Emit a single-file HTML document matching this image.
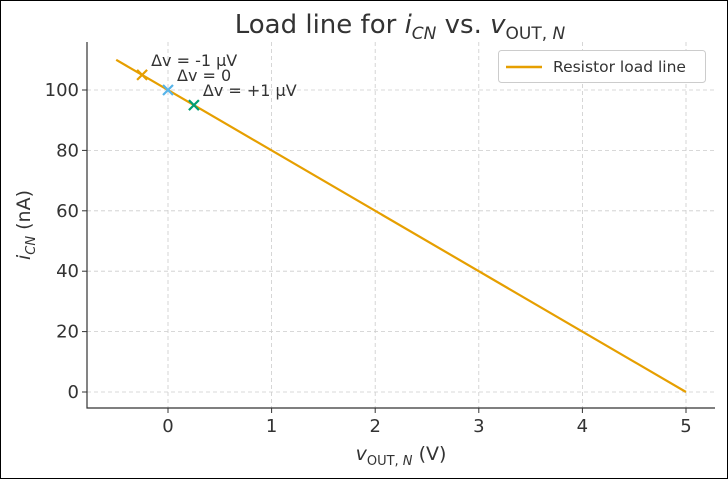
<!DOCTYPE html>
<html><head><meta charset="utf-8"><style>
body{margin:0;background:#fff}
svg{display:block;font-family:"DejaVu Sans","Liberation Sans",sans-serif}
</style></head><body>
<svg id="c" width="728" height="479">
<rect x="0.5" y="0.5" width="727" height="478" fill="#fff" stroke="#000"/>
<g id="grid"></g><g id="marks"></g><g id="axes"></g>
<text x="400" y="33" text-anchor="middle" font-size="26" fill="#333">Load line for <tspan font-style="italic">i</tspan><tspan font-style="italic" font-size="17" dy="6">CN</tspan><tspan dy="-6"> vs. </tspan><tspan font-style="italic">v</tspan><tspan font-size="17" dy="6">OUT,</tspan><tspan font-size="17" font-style="italic"> N</tspan></text>
<text x="401" y="460" text-anchor="middle" font-size="19" fill="#333"><tspan font-style="italic">v</tspan><tspan font-size="13" dy="5">OUT,</tspan><tspan font-size="13" font-style="italic"> N</tspan><tspan dy="-5"> (V)</tspan></text>
<text transform="translate(30,225) rotate(-90)" text-anchor="middle" font-size="19" fill="#333"><tspan font-style="italic">i</tspan><tspan font-size="13" font-style="italic" dy="5">CN</tspan><tspan dy="-5"> (nA)</tspan></text>
<g>
<rect x="498.5" y="50.5" width="207" height="32" rx="3" fill="#fff" stroke="#ccc"/>
<line x1="506" y1="67" x2="542" y2="67" stroke="#e69f00" stroke-width="2.5"/>
<text x="553" y="72" font-size="15.5" fill="#333">Resistor load line</text>
</g>
</svg>
<script>
const lineV=[-0.5,5];
const lineI=[110,0];
const ptV=[-0.25,0,0.25];
const ptI=[105,100,95];
const ptLabels=["Δv = -1 μV","Δv = 0","Δv = +1 μV"];
const ptColors=["#e69f00","#56b4e9","#009e73"];
const xTicks=[0,1,2,3,4,5];
const yTicks=[0,20,40,60,80,100];
const X=v=>168+v*103.6;
const Y=i=>392-i*3.02;
const NS="http://www.w3.org/2000/svg";
function mk(parent,tag,attrs){const e=document.createElementNS(NS,tag);for(const k in attrs)e.setAttribute(k,attrs[k]);document.getElementById(parent).appendChild(e);return e;}
xTicks.forEach(t=>{
 const g=mk('grid','line',{x1:X(t),x2:X(t),y1:42,y2:408,stroke:'#ccc','stroke-dasharray':'4,3','stroke-width':0.8});
 
 
 const tk=mk('axes','line',{x1:X(t),x2:X(t),y1:408,y2:413,stroke:'#333'});
 
 
 const l=mk('axes','text',{x:X(t),y:432,'text-anchor':'middle','font-size':18,fill:'#333'});l.textContent=t;
 
 
});
yTicks.forEach(t=>{
 const g=mk('grid','line',{x1:87,x2:715,y1:Y(t),y2:Y(t),stroke:'#ccc','stroke-dasharray':'4,3','stroke-width':0.8});
 
 
 const tk=mk('axes','line',{x1:82,x2:87,y1:Y(t),y2:Y(t),stroke:'#333'});
 
 
 const l=mk('axes','text',{x:79,y:Y(t)+6,'text-anchor':'end','font-size':18,fill:'#333'});l.textContent=t;
 
 
});
const ax=mk('axes','path',{d:'M87 42V408H715',fill:'none',stroke:'#333','stroke-width':1.2});


const ln=mk('marks','line',{x1:X(lineV[0]),y1:Y(lineI[0]),x2:X(lineV[1]),y2:Y(lineI[1]),stroke:'#e69f00','stroke-width':2.2});


ptV.forEach((v,k)=>{
 const cx=X(v),cy=Y(ptI[k]),s=5;
 const p=mk('marks','path',{d:`M${cx-s} ${cy-s}L${cx+s} ${cy+s}M${cx-s} ${cy+s}L${cx+s} ${cy-s}`,stroke:ptColors[k],'stroke-width':2.2});
 
 
 const t=mk('marks','text',{x:cx+9,y:cy-9,'font-size':16,fill:'#333'});t.textContent=ptLabels[k];
 
 
});
</script>
</body></html>
